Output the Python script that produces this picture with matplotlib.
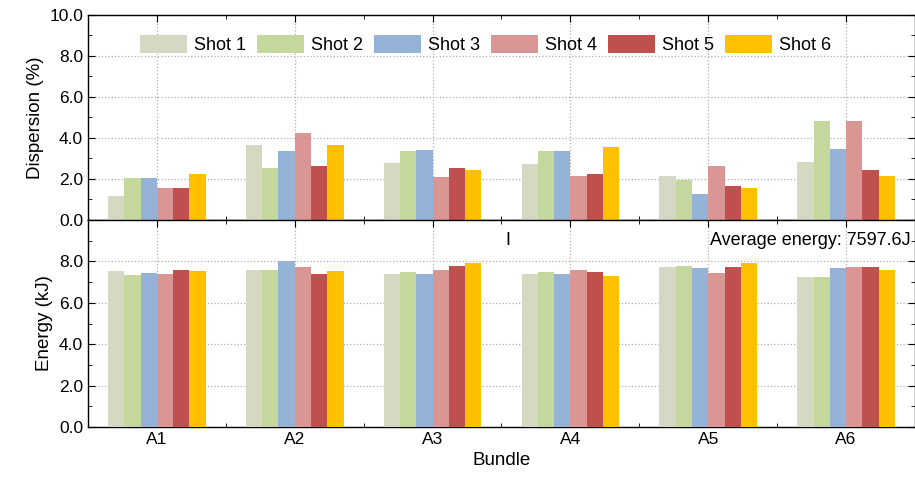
import matplotlib
matplotlib.use("Agg")
import matplotlib.pyplot as plt
import numpy as np
from matplotlib.ticker import MultipleLocator, FormatStrFormatter

plt.rcParams['font.family'] = ['Liberation Sans', 'DejaVu Sans']

bundles = ["A1", "A2", "A3", "A4", "A5", "A6"]
shots = ["Shot 1", "Shot 2", "Shot 3", "Shot 4", "Shot 5", "Shot 6"]
colors = ["#d5d9c4", "#c4d89d", "#95b3d7", "#d99694", "#c0504d", "#ffc000"]
dispersion = [
    [1.15, 3.65, 2.80, 2.75, 2.15, 2.85],
    [2.05, 2.55, 3.35, 3.35, 1.95, 4.85],
    [2.05, 3.35, 3.40, 3.35, 1.25, 3.45],
    [1.55, 4.25, 2.10, 2.15, 2.65, 4.85],
    [1.55, 2.65, 2.55, 2.25, 1.65, 2.45],
    [2.25, 3.65, 2.45, 3.55, 1.55, 2.15],
]
energy = [
    [7.55, 7.60, 7.40, 7.40, 7.75, 7.25],
    [7.35, 7.60, 7.50, 7.50, 7.80, 7.25],
    [7.45, 8.00, 7.40, 7.40, 7.70, 7.70],
    [7.40, 7.75, 7.60, 7.60, 7.45, 7.75],
    [7.60, 7.40, 7.80, 7.50, 7.75, 7.75],
    [7.55, 7.55, 7.90, 7.30, 7.90, 7.60],
]

fig = plt.figure(figsize=(9.15, 4.8), dpi=100)
ax1 = fig.add_axes([88/915, 1-220/480, (915-88)/915, 205/480])
ax2 = fig.add_axes([88/915, 1-427/480, (915-88)/915, 207/480], sharex=ax1)

x = np.arange(len(bundles))
w = 0.118
for ax, data in ((ax1, dispersion), (ax2, energy)):
    for i in range(6):
        ax.bar(x + (i - 2.5) * w, data[i], w, color=colors[i], label=shots[i], zorder=3)
    ax.set_ylim(0, 10)
    ax.set_xlim(-0.5, 5.5)
    ax.yaxis.set_major_locator(MultipleLocator(2))
    ax.yaxis.set_minor_locator(MultipleLocator(1))
    ax.yaxis.set_major_formatter(FormatStrFormatter('%.1f'))
    ax.set_xticks(x)
    ax.set_xticks(np.arange(0.5, 5.5, 1), minor=True)
    ax.grid(True, which='major', linestyle=':', color='#b0b0b0', linewidth=0.9, zorder=0)
    ax.tick_params(which='both', direction='in', top=True, right=True, labelsize=12.5)
    ax.tick_params(which='major', length=5)
    ax.tick_params(which='minor', length=3)
    for s in ax.spines.values():
        s.set_linewidth(1.0)

ax1.tick_params(labelbottom=False)
ax2.set_yticks([0, 2, 4, 6, 8])
ax2.set_xticklabels(bundles)
ax1.set_ylabel("Dispersion (%)", fontsize=13.5)
ax2.set_ylabel("Energy (kJ)", fontsize=13.5)
ax2.set_xlabel("Bundle", fontsize=13.5)
ax1.legend(loc='upper center', ncol=6, frameon=False, fontsize=13,
           handlelength=2.6, handleheight=1.1, columnspacing=0.6, handletextpad=0.4,
           bbox_to_anchor=(0.481, 0.98))
ax2.text(0.995, 0.9, "Average energy: 7597.6J", transform=ax2.transAxes,
         ha='right', va='center', fontsize=13)
ax2.text(0.508, 0.9, "I", transform=ax2.transAxes, ha='center', va='center', fontsize=13)
fig.align_ylabels([ax1, ax2])
fig.savefig("out.png", dpi=100)
